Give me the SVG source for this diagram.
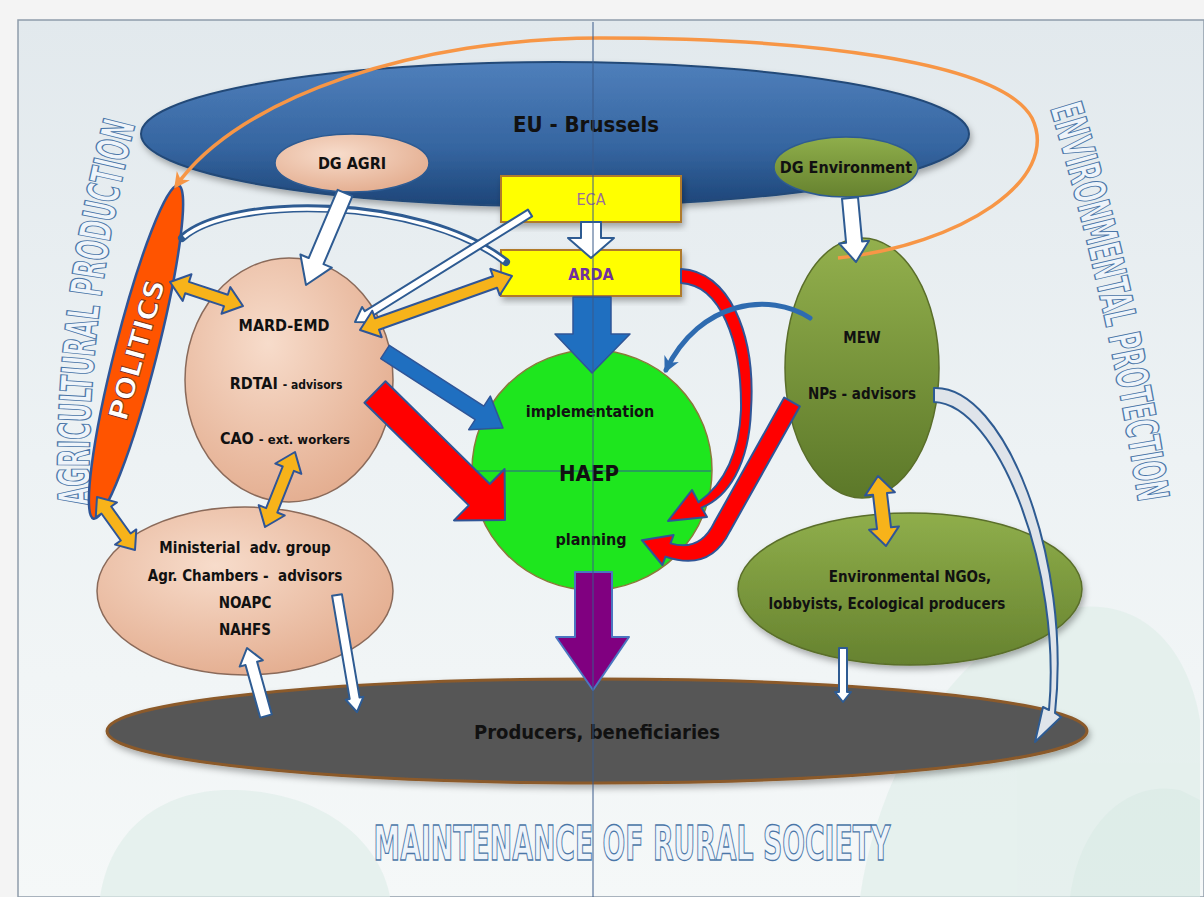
<svg xmlns="http://www.w3.org/2000/svg" width="1204" height="897" viewBox="0 0 1204 897">
<defs>
<linearGradient id="bg" x1="0" y1="0" x2="0" y2="1">
<stop offset="0" stop-color="#e2e9ed"/><stop offset="0.5" stop-color="#edf2f4"/><stop offset="1" stop-color="#f5f8f8"/>
</linearGradient>
<linearGradient id="gEU" x1="0" y1="0" x2="0" y2="1">
<stop offset="0" stop-color="#4f7fbb"/><stop offset="0.6" stop-color="#3565a0"/><stop offset="1" stop-color="#1d4578"/>
</linearGradient>
<radialGradient id="gPeach" cx="0.4" cy="0.35" r="0.75">
<stop offset="0" stop-color="#f7dccb"/><stop offset="1" stop-color="#e2a98a"/>
</radialGradient>
<linearGradient id="gOlive" x1="0" y1="0" x2="0" y2="1">
<stop offset="0" stop-color="#93b04d"/><stop offset="1" stop-color="#5c7829"/>
</linearGradient>
<linearGradient id="gOlive2" x1="0" y1="0" x2="0" y2="1">
<stop offset="0" stop-color="#8fae4b"/><stop offset="1" stop-color="#66822f"/>
</linearGradient>
<filter id="sh" x="-10%" y="-10%" width="120%" height="130%">
<feDropShadow dx="2" dy="4" stdDeviation="3" flood-color="#000" flood-opacity="0.3"/>
</filter>
<marker id="mOr" viewBox="0 0 10 10" refX="8" refY="5" markerWidth="16" markerHeight="16" markerUnits="userSpaceOnUse" orient="auto">
<path d="M0,0 L10,5 L0,10 L3,5 z" fill="#f79646"/>
</marker>
<marker id="mBl" viewBox="0 0 10 10" refX="8" refY="5" markerWidth="16" markerHeight="16" markerUnits="userSpaceOnUse" orient="auto">
<path d="M0,0 L10,5 L0,10 L3,5 z" fill="#2e6bb0"/>
</marker>
<path id="pAgri" d="M 90,505 Q 84,320 137,118"/>
<path id="pEnv" d="M 1050,108 Q 1108,300 1140,515"/>
</defs>
<style>
.lbl{font-family:"DejaVu Sans Condensed","DejaVu Sans",sans-serif;font-weight:bold;fill:#111;text-anchor:middle}
.big{font-family:"DejaVu Sans Condensed","DejaVu Sans",sans-serif;font-weight:bold;fill:#eef4fa;stroke:#4a76a8;stroke-width:1.3}
.wa{fill:#ffffff;stroke:#2e5b92;stroke-width:2;stroke-linejoin:round}
.ya{fill:#f7b31a;stroke:#2f5597;stroke-width:2;stroke-linejoin:round}
.ra{fill:#ff0000;stroke:#2f5597;stroke-width:2;stroke-linejoin:round}
.ba{fill:#1f6fc0;stroke:#2f5597;stroke-width:1.5;stroke-linejoin:round}
</style>

<!-- background -->
<rect x="0" y="0" width="1204" height="897" fill="#f4f4f4"/>
<rect x="18" y="20" width="1186" height="877" fill="url(#bg)" stroke="#8f9caa" stroke-width="1.5"/>
<g fill="#e0eeea" opacity="0.7">
<path d="M 860,897 C 880,760 960,640 1060,610 C 1150,590 1190,660 1200,720 L 1200,897 Z"/>
<path d="M 100,897 C 110,830 160,790 230,790 C 320,790 380,840 390,897 Z"/>
<path d="M 1070,897 C 1080,820 1130,780 1180,790 L 1200,800 L 1200,897 Z" fill="#d6e9e3"/>
</g>

<!-- side titles -->
<text class="big" font-size="44"><textPath href="#pAgri" textLength="385" lengthAdjust="spacingAndGlyphs">AGRICULTURAL PRODUCTION</textPath></text>
<text class="big" font-size="44"><textPath href="#pEnv" textLength="405" lengthAdjust="spacingAndGlyphs">ENVIRONMENTAL PROTECTION</textPath></text>
<text class="big" x="0" y="0" font-size="48" text-anchor="middle" transform="translate(632,860) scale(0.62,1)">MAINTENANCE OF RURAL SOCIETY</text>

<!-- nodes -->
<g id="eu-brussels">
<ellipse cx="555" cy="134" rx="414" ry="72" fill="url(#gEU)" stroke="#244a78" stroke-width="2" filter="url(#sh)"/>
<text class="lbl" x="586" y="132" font-size="22">EU - Brussels</text>
</g>
<g id="producers">
<ellipse cx="597" cy="731" rx="490" ry="52" fill="#575757" stroke="#8b5a2b" stroke-width="3" filter="url(#sh)"/>
<text class="lbl" x="597" y="739" font-size="20">Producers, beneficiaries</text>
</g>
<g id="dg-agri">
<ellipse cx="352" cy="163" rx="77" ry="29" fill="url(#gPeach)" stroke="#2e5b92" stroke-width="1.5"/>
<text class="lbl" x="352" y="169" font-size="16">DG AGRI</text>
</g>
<g id="dg-environment">
<ellipse cx="846" cy="167" rx="72" ry="30" fill="url(#gOlive2)" stroke="#2e5b92" stroke-width="1.5"/>
<text class="lbl" x="846" y="173" font-size="16" font-weight="normal">DG Environment</text>
</g>
<g id="eca">
<rect x="501" y="176" width="180" height="46" fill="#ffff00" stroke="#b07a2a" stroke-width="2" filter="url(#sh)"/>
<text x="591" y="205" font-family="DejaVu Sans Condensed, DejaVu Sans, sans-serif" font-size="16" fill="#9a6f9a" text-anchor="middle">ECA</text>
</g>
<g id="arda">
<rect x="501" y="250" width="180" height="46" fill="#ffff00" stroke="#b07a2a" stroke-width="2" filter="url(#sh)"/>
<text x="591" y="280" font-family="DejaVu Sans Condensed, DejaVu Sans, sans-serif" font-weight="bold" font-size="16" fill="#7030a0" text-anchor="middle">ARDA</text>
</g>
<g id="politics">
<ellipse cx="136" cy="352" rx="21" ry="172" transform="rotate(14.3 136 352)" fill="#ff5400" stroke="#2f5597" stroke-width="2.5"/>
<text x="137" y="359" font-family="DejaVu Sans, sans-serif" font-weight="bold" font-size="27" fill="#ffffff" stroke="#7a2a10" stroke-width="0.8" text-anchor="middle" textLength="145" lengthAdjust="spacingAndGlyphs" transform="rotate(-74.4 137 350)">POLITICS</text>
</g>
<g id="mard-emd">
<ellipse cx="289" cy="380" rx="104" ry="122" fill="url(#gPeach)" stroke="#8a6a5a" stroke-width="1.5"/>
<text class="lbl" x="284" y="331" font-size="16">MARD-EMD</text>
<text class="lbl" x="286" y="389" font-size="16">RDTAI <tspan font-size="12">- advisors</tspan></text>
<text class="lbl" x="285" y="444" font-size="16">CAO <tspan font-size="13">- ext. workers</tspan></text>
</g>
<g id="ministerial">
<ellipse cx="245" cy="591" rx="148" ry="84" fill="url(#gPeach)" stroke="#8a6a5a" stroke-width="1.5"/>
<text class="lbl" x="245" y="553" font-size="15">Ministerial&#160; adv. group</text>
<text class="lbl" x="245" y="581" font-size="15">Agr. Chambers -&#160; advisors</text>
<text class="lbl" x="245" y="608" font-size="15">NOAPC</text>
<text class="lbl" x="245" y="635" font-size="15">NAHFS</text>
</g>
<g id="mew">
<ellipse cx="862" cy="368" rx="77" ry="130" fill="url(#gOlive)" stroke="#5a6e2a" stroke-width="1.5"/>
<text class="lbl" x="862" y="343" font-size="15">MEW</text>
<text class="lbl" x="862" y="399" font-size="15">NPs - advisors</text>
</g>
<g id="env-ngos">
<ellipse cx="910" cy="589" rx="172" ry="76" fill="url(#gOlive2)" stroke="#5a6e2a" stroke-width="1.5" filter="url(#sh)"/>
<text class="lbl" x="910" y="582" font-size="15">Environmental NGOs,</text>
<text class="lbl" x="887" y="609" font-size="15">lobbyists, Ecological producers</text>
</g>
<g id="haep">
<circle cx="592" cy="470" r="120" fill="#1ee61e" stroke="#8a7a3a" stroke-width="1.5"/>
<line x1="473" y1="471" x2="711" y2="471" stroke="#2e5b92" stroke-width="1"/>
<text class="lbl" x="590" y="417" font-size="16">implementation</text>
<text class="lbl" x="589" y="481" font-size="22">HAEP</text>
<text class="lbl" x="591" y="545" font-size="16">planning</text>
</g>

<!-- connectors -->
<g id="connectors">
<path d="M 838,258 C 960,245 1062,180 1032,118 C 1000,60 800,38 600,38 C 420,38 240,95 176,186" fill="none" stroke="#f79646" stroke-width="3.5" marker-end="url(#mOr)"/>
<path d="M 182,238 C 230,195 420,195 506,262" fill="none" stroke="#2e5b92" stroke-width="8" stroke-linecap="round"/>
<path d="M 184,237 C 232,196 420,197 504,261" fill="none" stroke="#ffffff" stroke-width="3.5"/>
<polygon class="wa" points="352.4,196.1 323.5,264.2 331.8,267.7 306,285 300.4,254.5 308.7,258 337.6,189.9"/>
<polygon class="wa" points="858,197.3 862.1,241.4 869,240.7 856,262 839.2,243.5 846.1,242.8 842,198.7"/>
<polygon class="wa" points="601,222 601,238 614,238 591,258 568,238 581,238 581,222"/>
<polygon class="wa" points="532.1,216.4 369,318 371.7,322.2 355,322 362.1,307 364.8,311.2 527.9,209.6"/>
<polygon class="ya" points="170,282 182.7,300.9 185.2,293.3 224,306.1 221.5,313.7 243,306 230.3,287.1 227.8,294.7 189,281.9 191.5,274.3"/>
<polygon class="ya" points="360,330 381.7,337.2 379,329.7 497,287.7 499.7,295.2 512,276 490.3,268.8 493,276.3 375,318.3 372.3,310.8"/>
<polygon class="ya" points="295,452 301.3,473.9 293.9,470.9 277.3,512.5 284.7,515.5 265,527 258.7,505.1 266.1,508.1 282.7,466.5 275.3,463.5"/>
<polygon class="ya" points="97,497 95.7,517.6 101.4,513.5 120.8,540.5 115.1,544.6 135,550 136.3,529.4 130.6,533.5 111.2,506.5 116.9,502.4"/>
<polygon class="ya" points="878,476 865.1,495.6 873,494.7 877,528.9 869.1,529.8 886,546 898.9,526.4 891,527.3 887,493.1 894.9,492.2"/>
<polygon class="ba" points="573,297 611,297 611,334 630,334 592,373 555,334 573,334"/>
<polygon class="ba" points="380.7,358.7 475.2,419.6 468.7,429.7 503,428 490.3,396.1 483.8,406.2 389.3,345.3"/>
<polygon class="ra" points="364.5,402.7 468.8,505.4 454,520.4 505,520 504.6,469 489.8,484 385.5,381.3"/>
<path class="ra" d="M 681,269 C 728,271 756,332 751,410 C 749,465 728,497 701.5,507.6 L 707,517 L 668,521 L 692,490 L 698.5,502.4 C 721,486 739,458 741,410 C 742,340 720,285 681,283 Z"/>
<path class="ra" d="M 784.2,397.6 L 799.8,406.4 L 729.8,531.4 Q 710,572 665.5,556.6 L 662.4,565 L 641.8,540.2 L 673.6,535 L 670.5,543.4 Q 700,552 714.2,522.6 Z"/>
<path d="M 810,318 C 770,292 700,300 666,370" fill="none" stroke="#2e6bb0" stroke-width="5" stroke-linecap="round" marker-end="url(#mBl)"/>
<path d="M 934,388 C 1005,385 1072,560 1055,713 L 1061,717 L 1035,742 L 1043,707 L 1049,710 C 1062,570 998,404 934,402 Z" fill="#dfe4ea" stroke="#2e5b92" stroke-width="2" stroke-linejoin="round"/>
<polygon points="575,572 612,572 612,637 629,637 593,690 556,637 575,637" fill="#800080" stroke="#4a76c0" stroke-width="2" stroke-linejoin="round"/>
<polygon class="wa" points="847,648 847,692 851,692 843,702 835,692 839,692 839,648"/>
<polygon class="wa" points="271.8,714.4 257.1,661.8 262.9,660.2 247,648 239.7,666.6 245.5,665 260.2,717.6"/>
<polygon class="wa" points="341.9,594.2 359.5,697.4 363.5,696.7 357,712 345.7,699.7 349.7,699 332.1,595.8"/>
</g>

<line x1="593" y1="22" x2="593" y2="897" stroke="#3b5a8a" stroke-width="1"/>
</svg>
